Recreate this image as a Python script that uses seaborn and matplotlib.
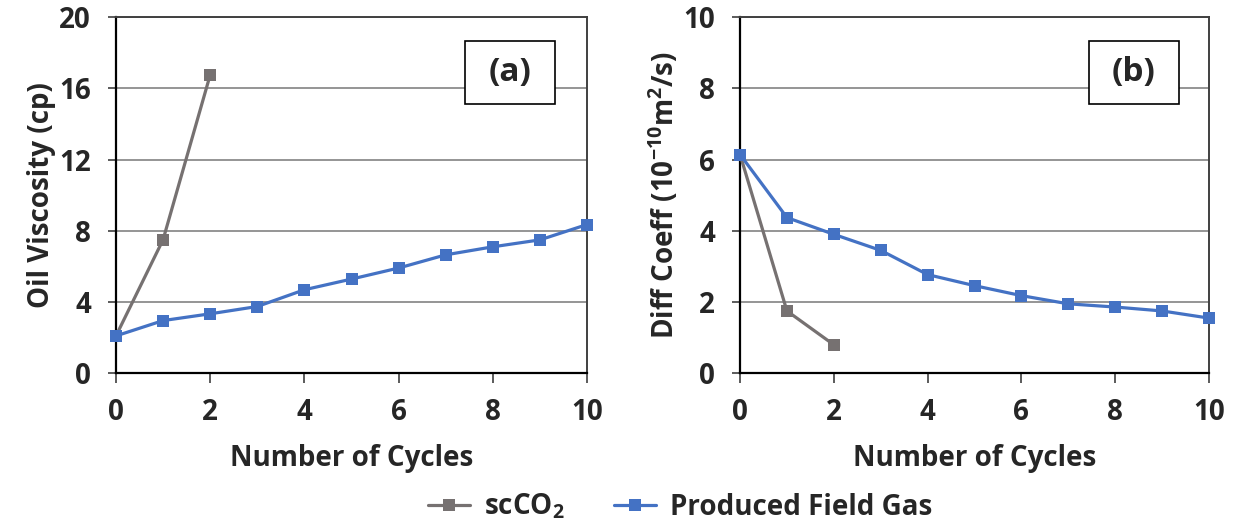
import matplotlib
matplotlib.use("Agg")
import matplotlib.pyplot as plt
import seaborn as sns
import pandas as pd
from matplotlib.lines import Line2D
from matplotlib.patches import Rectangle

# Cycle numbers and measured series
cycles_co2 = [0, 1, 2]
cycles_gas = [0, 1, 2, 3, 4, 5, 6, 7, 8, 9, 10]

visc_co2 = [2.10, 7.50, 16.75]
visc_gas = [2.10, 2.96, 3.34, 3.75, 4.69, 5.29, 5.91, 6.65, 7.10, 7.49, 8.35]

diff_co2 = [6.14, 1.75, 0.80]
diff_gas = [6.14, 4.37, 3.90, 3.45, 2.77, 2.46, 2.18, 1.95, 1.86, 1.75, 1.55]

series_names = ["scCO$_2$", "Produced Field Gas"]
colors = {"scCO$_2$": "#767171", "Produced Field Gas": "#4472C4"}

sns.set_theme(style="white")
plt.rcParams["font.family"] = ["Open Sans", "DejaVu Sans"]
plt.rcParams["font.weight"] = "bold"
plt.rcParams["mathtext.default"] = "regular"

FS = 20


def build_frame(y_co2, y_gas):
    a = pd.DataFrame({"cycle": cycles_co2, "value": y_co2, "series": series_names[0]})
    b = pd.DataFrame({"cycle": cycles_gas, "value": y_gas, "series": series_names[1]})
    return pd.concat([a, b], ignore_index=True)


fig = plt.figure(figsize=(12.39, 5.29), dpi=100)
ax_a = fig.add_axes([0.0936, 0.2943, 0.3802, 0.6736])
ax_b = fig.add_axes([0.5973, 0.2943, 0.3785, 0.6736])

panels = [
    (ax_a, build_frame(visc_co2, visc_gas), 20, [0, 4, 8, 12, 16, 20],
     "Oil Viscosity (cp)", "(a)", 0.8365),
    (ax_b, build_frame(diff_co2, diff_gas), 10, [0, 2, 4, 6, 8, 10],
     "Diff Coeff (10$^{-10}$m$^2$/s)", "(b)", 0.840),
]

for ax, df, ymax, yticks, ylabel, tag, tag_x in panels:
    sns.lineplot(data=df, x="cycle", y="value", hue="series", palette=colors,
                 marker="s", markersize=9, markeredgewidth=0, linewidth=2.3,
                 ax=ax, legend=False, zorder=3, clip_on=False)
    ax.set_xlim(0, 10)
    ax.set_ylim(0, ymax)
    ax.set_xticks([0, 2, 4, 6, 8, 10])
    ax.set_yticks(yticks)
    ax.yaxis.grid(True, color="#8c8c8c", linewidth=1.3)
    ax.xaxis.grid(False)
    ax.set_axisbelow(True)
    ax.tick_params(axis="both", which="major", labelsize=FS, width=1.2,
                   direction="out", color="#404040", left=True, bottom=True)
    ax.tick_params(axis="x", length=7, pad=11)
    ax.tick_params(axis="y", length=6, pad=12)
    for lbl in ax.get_xticklabels() + ax.get_yticklabels():
        lbl.set_fontweight("bold")
    ax.set_xlabel("Number of Cycles", fontsize=FS, fontweight="bold", labelpad=12)
    ax.set_ylabel(ylabel, fontsize=FS, fontweight="bold", labelpad=2)
    for side in ["left", "bottom"]:
        ax.spines[side].set_color("black")
        ax.spines[side].set_linewidth(1.6)
    for side in ["top", "right"]:
        ax.spines[side].set_color("#404040")
        ax.spines[side].set_linewidth(1.4)
    bw, bh, by = 0.191, 0.177, 0.844
    ax.add_patch(Rectangle((tag_x - bw / 2, by - bh / 2), bw, bh,
                           transform=ax.transAxes, facecolor="white",
                           edgecolor="black", linewidth=1.2, zorder=4))
    ax.text(tag_x, by, tag, transform=ax.transAxes, ha="center", va="center",
            fontsize=24, fontweight="bold", zorder=5)

handles = [Line2D([0], [0], color=colors[n], marker="s", markersize=8,
                  markeredgewidth=0, linewidth=2.3) for n in series_names]
fig.legend(handles, series_names, loc="center", bbox_to_anchor=(0.549, 0.042),
           ncol=2, frameon=False, handlelength=1.5,
           handletextpad=0.5, columnspacing=1.8,
           prop={"weight": "bold", "size": FS})

fig.savefig("out.png", dpi=100)
